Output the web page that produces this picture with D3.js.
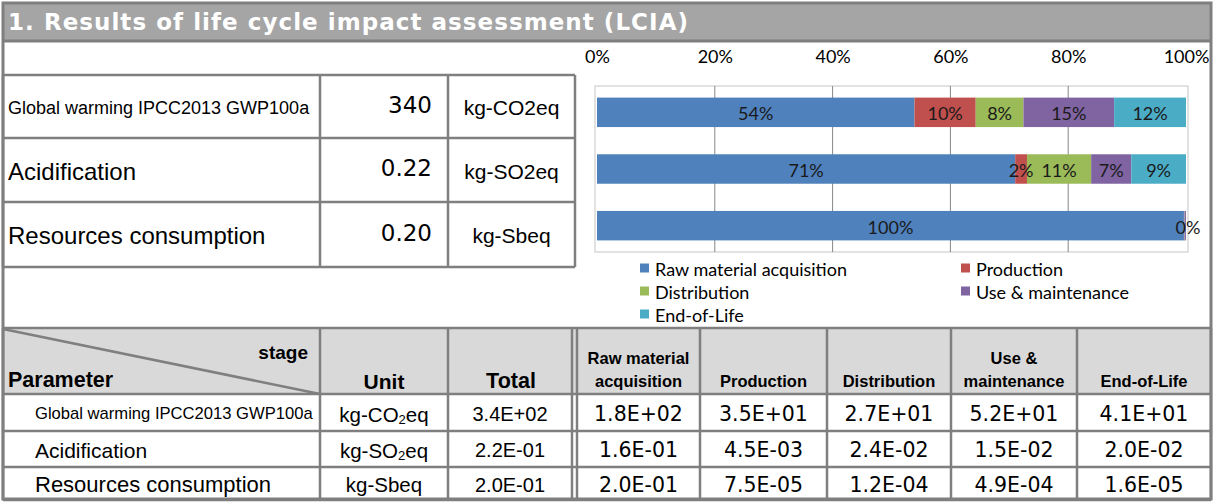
<!DOCTYPE html>
<meta charset="utf-8">
<style>
body { margin: 0; background: #fff; }
svg text { fill: #000; }
.frame { fill: none; stroke: #7f7f7f; stroke-width: 3; }
.cell { fill: none; stroke: #7f7f7f; stroke-width: 2.5; }
.lbl { font-family: "Liberation Sans", Arial, sans-serif; }
.num { font-family: "DejaVu Sans", Verdana, sans-serif; }
.cht { font-family: Lato, "Noto Sans", sans-serif; }
</style>
<body>
<script src="https://cdn.jsdelivr.net/npm/d3@7"></script>
<script>

// ---- data ----
var title = "1. Results of life cycle impact assessment (LCIA)";
var stages = ["Raw material acquisition", "Production", "Distribution", "Use & maintenance", "End-of-Life"];
var stageHeads = [["Raw material", "acquisition"], ["Production"], ["Distribution"], ["Use &", "maintenance"], ["End-of-Life"]];
var params = ["Global warming IPCC2013 GWP100a", "Acidification", "Resources consumption"];
var totals = ["340", "0.22", "0.20"];
var units = ["kg-CO2eq", "kg-SO2eq", "kg-Sbeq"];
var totalsSci = ["3.4E+02", "2.2E-01", "2.0E-01"];
var stageValues = [
  ["1.8E+02", "3.5E+01", "2.7E+01", "5.2E+01", "4.1E+01"],
  ["1.6E-01", "4.5E-03", "2.4E-02", "1.5E-02", "2.0E-02"],
  ["2.0E-01", "7.5E-05", "1.2E-04", "4.9E-04", "1.6E-05"]
];
// share of each stage in percent (bar chart)
var gwpShare = [53.9, 10.4, 8.1, 15.4, 12.2];
var acidShare = [71.0, 2.0, 10.9, 6.8, 9.3];
var resShare = [99.65, 0.04, 0.06, 0.24, 0.01];
var xTicks = [0, 20, 40, 60, 80, 100];
var colors = ["#4f81bd", "#c0504d", "#9bbb59", "#8064a2", "#4bacc6"];

var shares = [gwpShare, acidShare, resShare];

var svg = d3.select("body").append("svg")
    .attr("width", 1215)
    .attr("height", 502);

// title band
svg.append("rect").attr("x", 3).attr("y", 3).attr("width", 1208).attr("height", 38)
    .attr("fill", "#a5a5a5");
svg.append("text")
    .attr("x", 8).attr("y", 29.5)
    .attr("font-family", "'DejaVu Sans', Verdana, sans-serif")
    .attr("font-weight", "bold")
    .attr("font-size", 23)
    .attr("textLength", 680)
    .attr("lengthAdjust", "spacing")
    .style("fill", "#fff")
    .text(title);

// ---- top-left summary table ----
var tx = [3, 320, 448, 575], ty = [75, 138, 202, 267];
var topSizes = [18, 24, 24];
params.forEach(function(p, i) {
  var mid = (ty[i] + ty[i + 1]) / 2 + 1;
  svg.append("text").attr("class", "lbl")
      .attr("x", 8).attr("y", mid).attr("dominant-baseline", "central")
      .attr("font-size", topSizes[i]).text(p);
  svg.append("text").attr("class", "num")
      .attr("x", 432).attr("y", mid - 3).attr("dominant-baseline", "central")
      .attr("text-anchor", "end").attr("font-size", 23).text(totals[i]);
  svg.append("text").attr("class", "lbl")
      .attr("x", (tx[2] + tx[3]) / 2).attr("y", mid).attr("dominant-baseline", "central")
      .attr("text-anchor", "middle").attr("font-size", 21).text(units[i]);
});
ty.forEach(function(y) {
  svg.append("line").attr("class", "cell").attr("x1", tx[0]).attr("x2", tx[3]).attr("y1", y).attr("y2", y);
});
tx.forEach(function(x) {
  svg.append("line").attr("class", "cell").attr("x1", x).attr("x2", x).attr("y1", ty[0]).attr("y2", ty[3]);
});

// ---- stacked bar chart ----
var x = d3.scaleLinear().domain([0, 100]).range([597, 1186]);
var y = d3.scaleBand().domain(params).range([84, 254]).paddingInner(0.48).paddingOuter(0.24);

var stacked = params.map(function(p, i) {
  var acc = 0;
  return shares[i].map(function(v, j) {
    var d = {param: p, stage: j, v: v, x0: acc, x1: acc + v, last: j === shares[i].length - 1};
    acc += v;
    return d;
  });
});

svg.append("rect")
    .attr("x", x(0) - 2).attr("y", 86)
    .attr("width", x(100) - x(0) + 4).attr("height", 166)
    .attr("fill", "none").attr("stroke", "#d9d9d9").attr("stroke-width", 1.5);

svg.append("g")
    .attr("stroke", "#868686")
    .selectAll("line").data(xTicks.slice(1, -1)).enter().append("line")
    .attr("x1", function(d) { return x(d); }).attr("x2", function(d) { return x(d); })
    .attr("y1", 86).attr("y2", 252);

var axis = svg.append("g")
    .attr("transform", "translate(0,63)")
    .call(d3.axisTop(x).tickValues(xTicks).tickSize(0).tickPadding(0)
      .tickFormat(function(d) { return d + "%"; }));
axis.select(".domain").remove();
axis.selectAll("text").attr("font-size", 18).attr("font-family", "Lato, sans-serif").style("fill", "#000");

var rows = svg.selectAll(".row").data(stacked).enter().append("g").attr("class", "row");
rows.selectAll("rect").data(function(d) { return d; }).enter().append("rect")
    .attr("x", function(d) { return x(d.x0); })
    .attr("width", function(d) { return x(d.x1) - x(d.x0); })
    .attr("y", function(d) { return y(d.param); })
    .attr("height", y.bandwidth())
    .attr("fill", function(d) { return colors[d.stage]; });
// tiny segments pile their labels on top of each other; only the topmost one shows
rows.selectAll("text").data(function(d) { return d.filter(function(s) { return s.v >= 0.5 || s.last; }); })
  .enter().append("text")
    .attr("class", "cht")
    .attr("x", function(d) { return x((d.x0 + d.x1) / 2) + (d.v < 0.5 ? 2 : 0); })
    .attr("y", function(d) { return y(d.param) + y.bandwidth() / 2 + 1; })
    .attr("text-anchor", "middle").attr("dominant-baseline", "central")
    .attr("font-size", 18).style("fill", "#1a1a1a")
    .text(function(d) { return Math.round(d.v) + "%"; });

// legend
var leg = svg.append("g").attr("class", "cht");
stages.forEach(function(s, i) {
  var lx = i % 2 === 0 ? 640 : 961, ly = 268 + Math.floor(i / 2) * 23;
  leg.append("rect").attr("x", lx).attr("y", ly - 4.5).attr("width", 9).attr("height", 9).attr("fill", colors[i]);
  leg.append("text").attr("x", lx + 15).attr("y", ly + 1).attr("dominant-baseline", "central")
      .attr("font-size", 18).text(s);
});

// ---- bottom detail table ----
var bx = [3, 320, 448, 572, 577, 700, 827, 951, 1077, 1211];
var by = [328, 394, 431, 467, 500];
svg.append("rect").attr("x", 3).attr("y", by[0]).attr("width", 1208).attr("height", by[1] - by[0])
    .attr("fill", "#d9d9d9");
svg.append("line").attr("x1", bx[0]).attr("y1", by[0] + 1).attr("x2", bx[1]).attr("y2", by[1])
    .attr("stroke", "#7f7f7f").attr("stroke-width", 2.5);

var hb = svg.append("g").attr("class", "lbl").attr("font-weight", "bold");
hb.append("text").attr("x", 308).attr("y", 352).attr("dominant-baseline", "central")
    .attr("text-anchor", "end").attr("font-size", 19).text("stage");
hb.append("text").attr("x", 8).attr("y", 380).attr("dominant-baseline", "central")
    .attr("font-size", 21.5).text("Parameter");
hb.append("text").attr("x", 384).attr("y", 381).attr("dominant-baseline", "central")
    .attr("text-anchor", "middle").attr("font-size", 21).text("Unit");
hb.append("text").attr("x", 511).attr("y", 381).attr("dominant-baseline", "central")
    .attr("text-anchor", "middle").attr("font-size", 21.5).text("Total");
stageHeads.forEach(function(h, j) {
  var cx = (bx[j + 4] + bx[j + 5]) / 2;
  h.forEach(function(t, k) {
    hb.append("text").attr("x", cx).attr("y", 381 - (h.length - 1 - k) * 23)
        .attr("dominant-baseline", "central").attr("text-anchor", "middle")
        .attr("font-size", 16.5).text(t);
  });
});

var botSizes = [16.6, 21, 22];
params.forEach(function(p, i) {
  var mid = (by[i + 1] + by[i + 2]) / 2 + 1;
  svg.append("text").attr("class", "lbl").attr("x", 35).attr("y", mid)
      .attr("dominant-baseline", "central").attr("font-size", botSizes[i]).text(p);
  var u = svg.append("text").attr("class", "lbl").attr("x", 384).attr("y", mid)
      .attr("dominant-baseline", "central").attr("text-anchor", "middle").attr("font-size", 20.5);
  var m = units[i].match(/^(.*?)(\d)(.*)$/);
  if (m) {
    u.append("tspan").text(m[1]);
    u.append("tspan").attr("font-size", 13).attr("dy", 5).text(m[2]);
    u.append("tspan").attr("dy", -5).text(m[3]);
  } else {
    u.text(units[i]);
  }
  svg.append("text").attr("class", "lbl").attr("x", 510).attr("y", mid)
      .attr("dominant-baseline", "central").attr("text-anchor", "middle")
      .attr("font-size", 20).text(totalsSci[i]);
  stageValues[i].forEach(function(v, j) {
    svg.append("text").attr("class", "num").attr("x", (bx[j + 4] + bx[j + 5]) / 2).attr("y", mid)
        .attr("dominant-baseline", "central").attr("text-anchor", "middle")
        .attr("font-size", 20.5).text(v);
  });
});
by.forEach(function(yy) {
  svg.append("line").attr("class", "cell").attr("x1", 3).attr("x2", 1211).attr("y1", yy).attr("y2", yy);
});
bx.forEach(function(xx) {
  svg.append("line").attr("class", "cell").attr("x1", xx).attr("x2", xx).attr("y1", by[0]).attr("y2", by[4]);
});

// outer frame and divider under title
svg.append("rect").attr("class", "frame").attr("x", 3).attr("y", 3).attr("width", 1208).attr("height", 496);
svg.append("line").attr("class", "frame").attr("x1", 3).attr("x2", 1211).attr("y1", 41).attr("y2", 41);

</script>
</body>
